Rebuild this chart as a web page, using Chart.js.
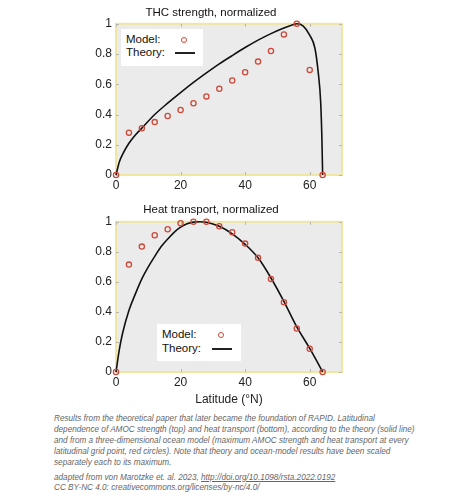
<!DOCTYPE html>
<html>
<head>
<title>THC strength and heat transport</title>
<script src="https://cdn.jsdelivr.net/npm/chart.js@4.4.1/dist/chart.umd.min.js"></script>
<style>
body{margin:0;background:#fff;font-family:"Liberation Sans",Arial,sans-serif;}
#wrap{position:relative;width:462px;height:498px;overflow:hidden;}
canvas{position:absolute;}
.legend{position:absolute;background:#fff;font-size:11.5px;color:#111;}
.legend .row{position:absolute;left:5px;white-space:nowrap;line-height:13px;}
.legend .dot{position:absolute;width:4px;height:4px;border:1.3px solid #cc4a3a;border-radius:50%;}
.legend .ln{position:absolute;height:2px;background:#222;}
#caption{position:absolute;left:54px;top:414px;font-size:8.2px;line-height:10.9px;font-style:italic;color:#666;white-space:nowrap;}
#caption a{color:#666;}
</style>
</head>
<body>
<div id="wrap">
<canvas id="thc" width="280" height="195" style="left:80px;top:0px;"></canvas>
<canvas id="heat" width="280" height="212" style="left:80px;top:195px;"></canvas>

<div class="legend" style="left:121px;top:29px;width:82px;height:37px;">
  <div class="row" style="top:4px;">Model:</div>
  <div class="dot" style="left:60px;top:8px;"></div>
  <div class="row" style="top:17px;">Theory:</div>
  <div class="ln" style="left:54px;top:23px;width:20px;"></div>
</div>
<div class="legend" style="left:157px;top:324px;width:84px;height:37px;">
  <div class="row" style="top:4px;">Model:</div>
  <div class="dot" style="left:61px;top:8px;"></div>
  <div class="row" style="top:18px;">Theory:</div>
  <div class="ln" style="left:55px;top:24px;width:20px;"></div>
</div>

<div id="caption">
Results from the theoretical paper that later became the foundation of RAPID. Latitudinal<br>
dependence of AMOC strength (top) and heat transport (bottom), according to the theory (solid line)<br>
and from a three-dimensional ocean model (maximum AMOC strength and heat transport at every<br>
latitudinal grid point, red circles). Note that theory and ocean-model results have been scaled<br>
separately each to its maximum.<br>
<div style="height:4px"></div>
adapted from von Marotzke et. al. 2023, <a href="http://doi.org/10.1098/rsta.2022.0192">http://doi.org/10.1098/rsta.2022.0192</a><br>
CC BY-NC 4.0: creativecommons.org/licenses/by-nc/4.0/
</div>
</div>

<script>
// model grid latitudes (°N)
var modelLat = [0, 4, 8, 12, 16, 20, 24, 28, 32, 36, 40, 44, 48, 52, 56, 60, 64];
// THC strength, normalized (model, red circles)
var thcModel = [0, 0.28, 0.31, 0.35, 0.39, 0.43, 0.475, 0.52, 0.57, 0.625, 0.68, 0.75, 0.82, 0.93, 1.0, 0.695, 0];
// heat transport, normalized (model)
var heatModel = [0, 0.715, 0.835, 0.91, 0.95, 0.99, 1.0, 1.0, 0.97, 0.93, 0.855, 0.76, 0.62, 0.465, 0.29, 0.155, 0];

// theory curves
var thcTheoryLat = [0, 1, 2, 4, 6, 8, 12, 16, 20, 24, 28, 32, 36, 40, 44, 48, 52, 55, 56, 58, 60, 61.6, 62.6, 63.4, 63.8, 64];
var thcTheory    = [0, 0.085, 0.135, 0.21, 0.265, 0.31, 0.40, 0.475, 0.545, 0.612, 0.675, 0.735, 0.79, 0.843, 0.892, 0.935, 0.972, 0.995, 1.0, 0.985, 0.925, 0.84, 0.685, 0.48, 0.22, 0];
var heatTheoryLat = [0, 1, 2, 4, 6, 8, 10, 12, 14, 16, 18, 20, 22, 24, 26, 28, 32, 36, 40, 44, 48, 52, 56, 60, 62, 64];
var heatTheory    = [0, 0.145, 0.255, 0.41, 0.52, 0.62, 0.70, 0.77, 0.835, 0.885, 0.93, 0.964, 0.987, 0.998, 1.0, 0.997, 0.97, 0.92, 0.85, 0.76, 0.626, 0.47, 0.30, 0.157, 0.08, 0];

var xTicks = [0, 20, 40, 60];
var yTicks = [0, 0.2, 0.4, 0.6, 0.8, 1];

function pts(xs, ys) {
  return xs.map(function (x, i) { return {x: x, y: ys[i]}; });
}

// grey plot background, pale yellow frame and small inward ticks
var frame = {
  id: 'frame',
  beforeDatasetsDraw: function (chart) {
    var a = chart.chartArea, ctx = chart.ctx;
    ctx.save();
    ctx.fillStyle = '#ebebeb';
    ctx.fillRect(a.left, a.top, a.right - a.left, a.bottom - a.top);
    ctx.strokeStyle = '#f1e6a0';
    ctx.lineWidth = 2;
    ctx.strokeRect(a.left, a.top, a.right - a.left, a.bottom - a.top);
    ctx.strokeStyle = '#b8b8a8';
    ctx.lineWidth = 1;
    var sx = chart.scales.x, sy = chart.scales.y;
    ctx.beginPath();
    xTicks.forEach(function (v) {
      var p = Math.round(sx.getPixelForValue(v)) + 0.5;
      ctx.moveTo(p, a.bottom); ctx.lineTo(p, a.bottom - 3);
      ctx.moveTo(p, a.top); ctx.lineTo(p, a.top + 3);
    });
    yTicks.forEach(function (v) {
      var p = Math.round(sy.getPixelForValue(v)) + 0.5;
      ctx.moveTo(a.left, p); ctx.lineTo(a.left + 3, p);
      ctx.moveTo(a.right, p); ctx.lineTo(a.right - 3, p);
    });
    ctx.stroke();
    ctx.restore();
  }
};

function makeChart(id, title, model, theory, theoryLat, opts) {
  var ctx = document.getElementById(id).getContext('2d');
  return new Chart(ctx, {
    type: 'scatter',
    data: {
      datasets: [{
        label: 'Theory',
        data: pts(theoryLat, theory),
        showLine: true,
        borderColor: '#111',
        borderWidth: 1.6,
        pointRadius: 0,
        cubicInterpolationMode: 'monotone',
        order: 2
      }, {
        label: 'Model',
        data: pts(modelLat, model),
        borderColor: '#cc4a3a',
        backgroundColor: 'rgba(0,0,0,0)',
        borderWidth: 1.3,
        pointRadius: 2.6,
        order: 1
      }]
    },
    options: {
      responsive: false,
      animation: false,
      clip: false,
      layout: {padding: {left: 0, right: 18, top: 0, bottom: 0}},
      plugins: {
        legend: {display: false},
        tooltip: {enabled: false},
        title: {
          display: true,
          text: title,
          color: '#111',
          font: {family: '"Liberation Sans", Arial, sans-serif', size: 11.5, weight: 'normal'},
          padding: opts.titlePad
        }
      },
      scales: {
        x: {
          type: 'linear', min: 0, max: 70,
          grid: {display: false, drawTicks: false},
          border: {display: false},
          afterBuildTicks: function (s) { s.ticks = xTicks.map(function (v) { return {value: v}; }); },
          afterFit: function (s) { s.height = opts.xHeight; },
          ticks: {color: '#222', padding: 3, font: {family: '"Liberation Sans", Arial, sans-serif', size: 12}},
          title: {
            display: !!opts.xTitle, text: opts.xTitle || '', color: '#222', padding: {top: 0, bottom: 0},
            font: {family: '"Liberation Sans", Arial, sans-serif', size: 12}
          }
        },
        y: {
          type: 'linear', min: 0, max: 1,
          grid: {display: false, drawTicks: false},
          border: {display: false},
          afterBuildTicks: function (s) { s.ticks = yTicks.map(function (v) { return {value: v}; }); },
          afterFit: function (s) { s.width = 36; },
          ticks: {
            color: '#222', padding: 4, font: {family: '"Liberation Sans", Arial, sans-serif', size: 12},
            callback: function (v) { return String(Math.round(v * 10) / 10); }
          }
        }
      }
    },
    plugins: [frame]
  });
}

makeChart('thc', 'THC strength, normalized', thcModel, thcTheory, thcTheoryLat,
  {titlePad: {top: 6, bottom: 4}, xHeight: 20});
makeChart('heat', 'Heat transport, normalized', heatModel, heatTheory, heatTheoryLat,
  {titlePad: {top: 8, bottom: 5}, xHeight: 35, xTitle: 'Latitude (°N)'});
</script>
</body>
</html>
